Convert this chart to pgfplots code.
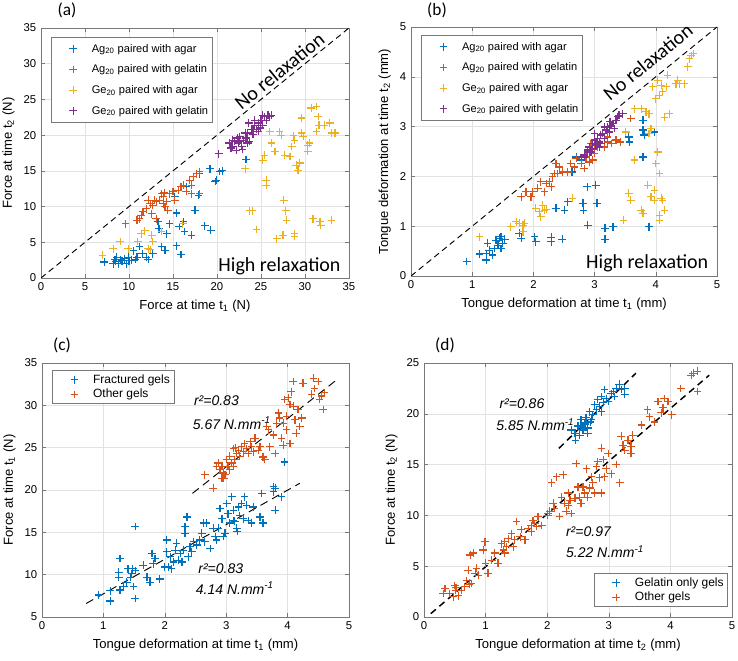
\documentclass[border=0pt]{standalone}
\usepackage{pgfplots}
\pgfplotsset{compat=1.18}
\usepackage{fontspec}
\setmainfont{Liberation Sans}
\newfontfamily\calibri{Carlito}
\definecolor{mblue}{RGB}{0,114,189}
\definecolor{morange}{RGB}{217,83,25}
\definecolor{myellow}{RGB}{237,177,32}
\definecolor{mpurple}{RGB}{126,47,142}
\definecolor{boxgray}{RGB}{120,120,120}
\definecolor{gridgray}{RGB}{226,226,226}
\newcommand\lfont{\fontsize{9}{10}\selectfont}
\newcommand\lfontb{\fontsize{8.3}{10}\selectfont}
\tikzset{
 note/.style={font=\fontsize{10.5}{12}\selectfont\itshape, anchor=west},
 big/.style={font=\calibri\fontsize{15}{18}\selectfont},
}
\pgfplotsset{
 mk/.style={only marks, mark=+, color=#1, mark options={draw=#1, line width=0.9pt, mark size=2.9pt}},
 mstyle/.style={
  scale only axis,
  axis line style={draw=boxgray, line width=0.5pt},
  every tick/.style={draw=boxgray, line width=0.4pt},
  major tick length=3pt,
  tick align=inside,
  grid=major,
  grid style={draw=gridgray, line width=0.4pt},
  ticklabel style={font=\fontsize{8.5}{10}\selectfont},
  /pgf/number format/assume math mode=true,
  label style={font=\fontsize{9.8}{11}\selectfont},
  legend cell align=left,
 },
}
\begin{document}
\begin{tikzpicture}
\path[use as bounding box] (0,0) rectangle (553.5pt,495pt);
% panel labels
\node[font=\calibri\fontsize{13}{15}\selectfont] at (50.25pt,487.5pt) {(a)};
\node[font=\calibri\fontsize{13}{15}\selectfont] at (327.75pt,487.5pt) {(b)};
\node[font=\calibri\fontsize{13}{15}\selectfont] at (46.5pt,236.25pt) {(c)};
\node[font=\calibri\fontsize{13}{15}\selectfont] at (333.75pt,236.25pt) {(d)};
% ---------------- (a)
\begin{axis}[mstyle, at={(30.75pt,286.5pt)}, anchor=south west, width=231pt, height=187.5pt,
  xmin=0, xmax=35, ymin=0, ymax=35, xtick={0,5,...,35}, ytick={0,5,...,35},
  xlabel={Force at time t\textsubscript{1} (N)}, ylabel={Force at time t\textsubscript{2} (N)},
  legend image code/.code={\path[draw=none] (0pt,0pt) -- (27.5pt,0pt); \path[#1] plot coordinates {(13.5pt,0pt)};},
  legend style={at={(0.032,0.964)}, anchor=north west, draw=boxgray, line width=0.5pt, font=\lfontb, inner xsep=3pt, inner ysep=3.6pt, row sep=5.5pt,
    nodes={inner sep=0pt, text height=7.5pt, text depth=2.5pt, font=\lfontb}}]
\addplot[black, dash pattern=on 4.5pt off 3pt, line width=0.7pt, forget plot] coordinates {(0,0) (35,35)};
\addplot[mk=mblue] coordinates {
(7.2,2.25)(8.2,2.0)(8.4,2.6)(8.6,2.9)(8.8,2.0)(9.2,2.4)(9.5,2.7)(9.7,2.0)(9.9,2.9)(10.3,2.5)
(10.5,3.8)(10.7,2.6)(10.9,2.9)(11.2,4.4)(11.5,3.4)(12.0,2.9)(12.2,2.6)(12.7,3.4)(13.3,7.9)(13.4,6.9)
(13.7,4.4)(14.1,3.9)(14.3,6.2)(14.6,7.6)(15.4,4.5)(15.4,9.1)(15.7,7.2)(15.9,3.3)(16.2,7.9)(16.3,6.5)
(16.5,12.8)(15.2,11.4)(17.1,6.0)(17.5,9.5)(17.9,11.6)(18.6,7.3)(19.3,6.7)(19.2,15.3)(19.8,13.5)(19.9,13.7)
(20.3,14.9)(20.6,15.0)(23.3,16.6)(18.0,14.6)(8.5,2.3)(9.0,2.6)(10.0,2.4)};
\addlegendentry{Ag\textsubscript{20} paired with agar}
\addplot[mk=morange] coordinates {
(9.6,7.6)(10.9,8.1)(11.2,8.3)(11.6,9.3)(12.0,9.7)(12.4,10.4)(12.7,10.2)(13.1,8.3)(13.1,10.7)(13.5,10.9)
(13.7,11.8)(13.9,11.4)(14.1,10.0)(14.3,10.7)(14.4,9.5)(14.6,11.8)(15.0,12.1)(15.2,10.9)(15.6,12.3)(15.9,12.8)
(16.2,13.0)(16.5,12.1)(16.9,13.7)(17.1,13.0)(17.3,14.2)(17.7,14.6)(18.0,14.9)(18.0,11.8)(17.1,11.8)(12.6,9.0)
(12.2,10.9)(12.9,10.9)(13.9,10.4)(11.4,8.8)(14.0,11.9)};
\addlegendentry{Ag\textsubscript{20} paired with gelatin}
\addplot[mk=myellow] coordinates {
(7.0,3.2)(8.2,4.1)(9.0,5.1)(9.9,4.1)(11.0,5.1)(11.4,6.2)(11.8,6.6)(12.2,4.1)(12.6,6.0)(12.7,5.1)
(13.7,6.5)(16.1,7.6)(23.2,15.3)(23.7,9.4)(24.0,9.4)(24.5,6.8)(25.2,16.5)(25.4,17.2)(25.6,13.7)(25.6,13.0)
(26.0,20.5)(26.2,18.9)(26.6,17.7)(26.8,5.5)(27.1,20.5)(27.3,20.0)(27.5,6.0)(27.6,10.9)(27.7,17.2)(27.8,9.4)
(27.9,8.1)(28.3,17.0)(28.5,18.4)(28.7,19.9)(28.8,6.2)(28.8,5.8)(29.0,15.8)(29.2,15.1)(29.4,16.1)(29.6,22.4)
(29.8,19.8)(29.6,20.3)(30.3,17.7)(30.5,18.9)(30.7,23.8)(30.9,8.3)(31.3,24.0)(31.5,22.6)(31.6,21.4)(31.7,7.9)
(31.8,7.4)(32.2,21.4)(32.8,21.7)(33.0,8.1)(33.0,20.3)(33.4,20.3)(31.3,20.5)(30.3,18.6)(28.8,19.3)(12.4,4.0)};
\addlegendentry{Ge\textsubscript{20} paired with agar}
\addplot[mk=mpurple] coordinates {
(20.2,17.4)(21.4,18.9)(21.8,18.4)(22.0,19.1)(22.2,17.9)(22.4,18.9)(22.6,19.8)(22.8,18.4)(23.0,19.3)(23.3,19.6)
(23.5,20.3)(23.7,19.1)(23.9,20.8)(24.1,20.1)(24.3,21.4)(24.5,20.8)(24.7,21.7)(24.9,21.0)(25.0,22.1)(25.2,21.4)
(25.4,22.6)(25.6,22.1)(25.8,22.8)(26.0,22.6)(26.2,22.8)(21.8,19.3)(22.3,19.6)(23.2,20.3)(24.1,20.8)(23.6,21.7)
(24.7,20.5)(25.2,22.8)(22.6,19.1)(23.5,18.9)(24.3,22.1)(21.6,18.2)(22.9,18.0)};
\addlegendentry{Ge\textsubscript{20} paired with gelatin}
\node[big, rotate=39.1] at (axis cs:27.1,29.0) {No relaxation};
\node[big] at (axis cs:27.1,1.64) {High relaxation};
\end{axis}
% ---------------- (b)
\begin{axis}[mstyle, at={(308.25pt,288pt)}, anchor=south west, width=229.5pt, height=186.75pt,
  xmin=0, xmax=5, ymin=0, ymax=5, xtick={0,...,5}, ytick={0,...,5},
  xlabel={Tongue deformation at time t\textsubscript{1} (mm)}, ylabel={Tongue deformation at time t\textsubscript{2} (mm)},
  legend image code/.code={\path[draw=none] (0pt,0pt) -- (27.5pt,0pt); \path[#1] plot coordinates {(13.5pt,0pt)};},
  legend style={at={(0.033,0.968)}, anchor=north west, draw=boxgray, line width=0.5pt, font=\lfontb, inner xsep=3pt, inner ysep=3.6pt, row sep=5.5pt,
    nodes={inner sep=0pt, text height=7.5pt, text depth=2.5pt, font=\lfontb}}]
\addplot[black, dash pattern=on 4.5pt off 3pt, line width=0.7pt, forget plot] coordinates {(0,0) (5,5)};
\addplot[mk=mblue] coordinates {
(0.91,0.29)(1.12,0.44)(1.23,0.45)(1.25,0.66)(1.28,0.52)(1.23,0.32)(1.33,0.42)(1.36,0.55)(1.39,0.72)(1.42,0.62)
(1.44,0.76)(1.47,0.79)(1.50,0.66)(1.47,0.55)(1.53,0.74)(1.77,0.86)(1.80,0.76)(2.02,0.79)(2.04,0.69)(2.29,0.78)
(2.29,0.69)(2.47,0.74)(2.37,1.36)(2.51,1.32)(2.56,1.49)(2.63,2.09)(2.70,2.39)(2.81,1.46)(2.82,1.32)(2.88,1.79)
(2.89,1.02)(3.02,1.82)(3.04,1.46)(3.17,0.74)(3.17,0.96)(3.30,0.99)(3.56,2.79)(3.57,2.69)(3.79,3.13)(3.79,2.93)
(3.81,2.83)(3.79,2.39)(3.98,2.89)(3.89,0.99)(2.78,2.33)};
\addlegendentry{Ag\textsubscript{20} paired with agar}
\addplot[mk=morange] coordinates {
(1.80,1.59)(1.88,1.69)(1.96,1.59)(1.99,1.69)(2.07,1.76)(2.12,1.89)(2.18,1.69)(2.21,1.86)(2.26,1.89)(2.29,1.79)
(2.31,1.99)(2.34,2.06)(2.37,2.26)(2.40,2.06)(2.42,2.19)(2.48,2.09)(2.56,2.09)(2.61,2.26)(2.67,2.19)(2.70,2.36)
(2.78,2.26)(2.83,2.16)(2.86,2.39)(2.91,2.29)(2.97,2.33)(3.00,2.46)(3.05,2.59)(3.10,2.66)(3.16,2.59)(3.21,2.69)
(3.27,2.66)(3.35,2.73)(3.42,2.69)(3.59,3.16)(2.94,2.66)(3.21,2.79)};
\addlegendentry{Ag\textsubscript{20} paired with gelatin}
\addplot[mk=myellow] coordinates {
(1.12,0.79)(1.63,0.99)(1.72,1.09)(1.77,1.06)(1.83,1.02)(1.85,1.06)(1.83,0.89)(2.04,1.36)(2.10,1.29)(2.15,1.42)
(2.18,1.32)(2.12,1.19)(2.21,1.34)(2.64,1.56)(3.51,2.89)(3.47,1.12)(3.56,1.66)(3.59,1.52)(3.65,3.36)(3.65,2.33)
(3.76,1.32)(3.79,1.26)(3.76,3.36)(3.84,3.30)(3.87,1.82)(3.89,3.26)(3.89,2.86)(3.92,2.96)(3.98,1.52)(3.98,1.72)
(4.00,2.26)(4.03,2.49)(4.06,2.06)(4.06,1.12)(4.09,1.56)(4.11,1.52)(4.14,1.32)(4.06,1.22)(3.92,1.59)(3.95,3.80)
(4.00,3.56)(4.03,3.93)(4.09,3.83)(4.11,3.70)(4.14,3.19)(4.17,3.80)(4.19,4.03)(4.22,3.26)(4.33,3.86)(4.36,3.93)
(4.39,3.86)(4.47,3.86)(4.52,4.20)(4.55,4.36)(4.58,4.43)(4.61,4.47)(4.06,3.63)};
\addlegendentry{Ge\textsubscript{20} paired with agar}
\addplot[mk=mpurple] coordinates {
(2.83,2.43)(2.89,2.53)(2.91,2.59)(2.94,2.49)(2.97,2.66)(3.00,2.73)(3.02,2.63)(3.05,2.76)(3.08,2.69)(3.10,2.83)
(3.13,2.86)(3.16,2.76)(3.19,2.93)(3.21,2.99)(3.24,2.89)(3.27,3.03)(3.30,3.06)(3.32,2.96)(3.35,3.13)(3.38,3.20)
(3.40,3.23)(3.46,3.26)(3.00,2.86)(2.91,2.49)(3.08,2.59)(3.16,2.99)(2.83,2.39)(3.10,2.66)(3.25,3.10)(2.97,2.55)};
\addlegendentry{Ge\textsubscript{20} paired with gelatin}
\node[big, rotate=39.1] at (axis cs:3.87,4.30) {No relaxation};
\node[big] at (axis cs:3.86,0.25) {High relaxation};
\end{axis}
% ---------------- (c)
\begin{axis}[mstyle, at={(31.5pt,32.25pt)}, anchor=south west, width=230.25pt, height=190.5pt,
  xmin=0, xmax=5, ymin=5, ymax=35, xtick={0,...,5}, ytick={5,10,...,35},
  xlabel={Tongue deformation at time t\textsubscript{1} (mm)}, ylabel={Force at time t\textsubscript{1} (N)},
  legend image code/.code={\path[draw=none] (0pt,0pt) -- (27.5pt,0pt); \path[#1] plot coordinates {(13.5pt,0pt)};},
  legend style={at={(0.033,0.972)}, anchor=north west, draw=boxgray, line width=0.5pt, font=\lfont, inner xsep=3pt, inner ysep=2pt, row sep=1pt,
    nodes={inner sep=0pt, text height=7.5pt, text depth=2.5pt, font=\lfont}}]
\addplot[mk=mblue] coordinates {
(0.92,7.6)(1.11,8.1)(1.11,6.9)(1.25,10.3)(1.25,9.7)(1.27,11.9)(1.27,8.2)(1.33,8.6)(1.38,9.1)(1.40,10.7)
(1.44,9.7)(1.46,10.1)(1.49,8.6)(1.52,10.5)(1.52,7.2)(1.52,15.7)(1.48,10.7)(1.65,11.1)(1.71,9.7)(1.76,9.1)
(1.79,12.5)(1.81,11.3)(1.84,11.9)(1.92,9.5)(2.00,10.9)(2.03,14.1)(2.03,12.7)(2.06,10.9)(2.09,12.1)(2.11,10.7)
(2.14,11.5)(2.17,12.9)(2.19,13.7)(2.22,11.7)(2.25,12.5)(2.28,11.5)(2.30,12.9)(2.33,15.7)(2.33,14.9)(2.36,16.8)
(2.38,12.1)(2.41,13.3)(2.44,12.7)(2.47,13.9)(2.52,13.5)(2.57,14.1)(2.60,14.9)(2.63,16.1)(2.65,13.9)(2.68,16.1)
(2.74,13.1)(2.79,15.5)(2.82,14.5)(2.84,14.1)(2.87,15.5)(2.90,17.8)(2.93,16.6)(2.95,14.5)(2.98,14.9)(3.01,18.4)
(3.03,17.2)(3.06,16.1)(3.09,19.2)(3.12,17.6)(3.14,16.3)(3.17,15.5)(3.18,15.1)(3.20,18.0)(3.22,17.0)(3.25,18.4)
(3.28,16.6)(3.30,19.2)(3.33,18.2)(3.36,16.4)(3.41,16.1)(3.44,18.0)(3.55,16.8)(3.58,19.6)(3.60,16.1)(3.77,20.4)
(3.80,20.2)(3.80,17.6)(3.90,19.2)(3.95,23.3)(3.77,19.8)(3.12,16.4)};
\addlegendentry{Fractured gels}
\addplot[mk=morange] coordinates {
(2.65,21.8)(2.79,20.2)(2.87,23.2)(2.90,22.4)(2.93,22.8)(2.95,22.0)(2.96,21.4)(3.01,23.6)(3.03,22.8)(3.06,24.0)
(3.09,23.2)(3.12,24.9)(3.14,23.6)(3.17,24.3)(3.20,24.7)(3.22,24.0)(3.25,25.1)(3.28,24.5)(3.30,25.5)(3.33,24.9)
(3.36,24.3)(3.39,25.7)(3.41,25.1)(3.47,26.1)(3.52,24.7)(3.55,25.1)(3.60,23.9)(3.63,23.6)(3.66,27.5)(3.69,27.1)
(3.71,25.1)(3.77,26.5)(3.80,24.3)(3.82,27.9)(3.85,29.1)(3.87,28.5)(3.90,26.1)(3.93,25.3)(3.95,30.7)(3.98,28.7)
(4.01,30.9)(4.04,25.5)(4.06,31.6)(4.09,32.8)(4.09,29.9)(4.12,28.3)(4.14,26.7)(4.17,29.5)(4.20,27.5)(4.23,28.5)
(4.25,32.6)(4.39,31.3)(4.42,33.2)(4.44,32.0)(4.50,32.8)(4.52,30.7)(4.55,31.1)(4.58,29.5)(4.60,31.5)(2.84,22.8)
(2.93,21.4)(3.06,22.4)(3.12,22.8)(3.44,24.5)(3.98,27.1)(3.93,27.9)(4.04,30.1)(2.98,21.8)(3.15,25.0)};
\addlegendentry{Other gels}
\addplot[black, dash pattern=on 6pt off 4pt, line width=0.7pt, forget plot] coordinates {(2.45,19.6) (4.78,32.9)};
\addplot[black, dash pattern=on 6pt off 4pt, line width=0.7pt, forget plot] coordinates {(0.72,6.6) (4.2,20.8)};
\node[note] at (axis cs:2.40,30.5) {r²=0.83};
\node[note] at (axis cs:2.38,27.9) {5.67 N.mm\textsuperscript{-1}};
\node[note] at (axis cs:2.47,10.7) {r²=0.83};
\node[note] at (axis cs:2.43,8.4) {4.14 N.mm\textsuperscript{-1}};
\end{axis}
% ---------------- (d)
\begin{axis}[mstyle, at={(318pt,32.25pt)}, anchor=south west, width=231pt, height=190.5pt,
  xmin=0, xmax=5, ymin=0, ymax=25, xtick={0,...,5}, ytick={0,5,...,25},
  xlabel={Tongue deformation at time t\textsubscript{2} (mm)}, ylabel={Force at time t\textsubscript{2} (N)},
  legend image code/.code={\path[draw=none] (0pt,0pt) -- (27.5pt,0pt); \path[#1] plot coordinates {(13.5pt,0pt)};},
  legend style={at={(0.987,0.039)}, anchor=south east, draw=boxgray, line width=0.5pt, font=\lfont, inner xsep=3pt, inner ysep=2pt, row sep=1pt,
    nodes={inner sep=0pt, text height=7.5pt, text depth=2.5pt, font=\lfont}}]
\addplot[mk=mblue] coordinates {
(2.39,18.4)(2.45,18.1)(2.46,17.4)(2.50,18.8)(2.53,17.9)(2.55,19.4)(2.58,18.4)(2.61,19.1)(2.63,19.6)(2.66,18.6)
(2.69,20.2)(2.72,19.4)(2.74,19.9)(2.77,20.9)(2.80,20.4)(2.82,21.4)(2.85,20.7)(2.88,21.7)(2.91,21.1)(2.93,22.4)
(2.96,21.5)(2.99,21.2)(3.04,22.0)(3.07,22.2)(3.09,21.7)(3.12,22.5)(3.17,22.9)(3.20,22.4)(3.26,21.9)(3.26,22.5)
(2.55,18.8)(2.66,18.1)(2.88,20.2)(2.62,19.0)(2.70,19.2)};
\addlegendentry{Gelatin only gels}
\addplot[mk=morange] coordinates {
(0.31,2.3)(0.34,2.8)(0.42,2.3)(0.48,2.0)(0.50,3.1)(0.51,2.6)(0.56,2.1)(0.61,2.6)(0.66,3.0)(0.69,3.6)
(0.72,4.6)(0.75,6.1)(0.77,3.3)(0.80,6.3)(0.83,4.3)(0.85,4.8)(0.88,4.1)(0.96,6.6)(0.99,7.4)(1.00,5.3)
(1.04,4.3)(1.10,5.6)(1.15,6.3)(1.20,5.3)(1.26,7.2)(1.29,6.6)(1.31,6.3)(1.34,6.9)(1.37,7.7)(1.42,8.2)
(1.45,6.9)(1.47,7.6)(1.50,9.4)(1.56,7.9)(1.58,8.6)(1.64,7.6)(1.69,8.7)(1.74,8.4)(1.77,9.5)(1.80,9.2)
(1.83,8.9)(1.85,9.9)(1.91,9.0)(2.01,10.0)(2.04,10.4)(2.07,13.2)(2.10,11.2)(2.12,10.7)(2.15,13.8)(2.20,9.9)
(2.23,11.8)(2.26,14.0)(2.28,11.2)(2.31,10.4)(2.34,12.2)(2.37,11.5)(2.39,10.2)(2.45,11.7)(2.47,15.1)(2.50,12.8)
(2.53,11.8)(2.55,11.2)(2.58,12.8)(2.61,12.2)(2.64,14.6)(2.66,11.8)(2.69,12.7)(2.72,13.8)(2.74,13.2)(2.77,12.2)
(2.80,14.8)(2.82,15.3)(2.85,13.7)(2.88,16.6)(2.91,15.5)(2.93,13.8)(2.96,14.6)(2.99,16.1)(3.04,14.1)(3.12,15.0)
(3.18,13.2)(3.20,17.8)(3.23,16.9)(3.26,16.4)(3.31,17.4)(3.36,16.1)(3.36,16.8)(3.39,17.9)(3.53,18.9)(3.63,20.4)
(3.66,19.7)(3.74,19.2)(3.80,21.2)(3.85,20.1)(3.88,20.6)(3.90,21.5)(3.96,21.2)(4.02,19.9)(4.17,22.5)(4.34,23.8)
(4.37,24.0)(4.44,24.2)(4.44,22.2)(2.88,12.2)(2.34,11.0)(2.01,10.2)(1.74,9.0)(1.31,7.4)(0.52,2.9)(0.74,3.2)};
\addlegendentry{Other gels}
\addplot[black, dash pattern=on 5pt off 3.5pt, line width=1.1pt, forget plot] coordinates {(2.19,16.6) (3.44,24.0)};
\addplot[black, dash pattern=on 5pt off 3.5pt, line width=1.1pt, forget plot] coordinates {(0.11,0.33) (4.63,23.8)};
\node[note] at (axis cs:1.15,21.0) {r²=0.86};
\node[note] at (axis cs:1.10,18.9) {5.85 N.mm\textsuperscript{-1}};
\node[note] at (axis cs:2.23,8.4) {r²=0.97};
\node[note] at (axis cs:2.23,6.4) {5.22 N.mm\textsuperscript{-1}};
\end{axis}
\end{tikzpicture}
\end{document}
